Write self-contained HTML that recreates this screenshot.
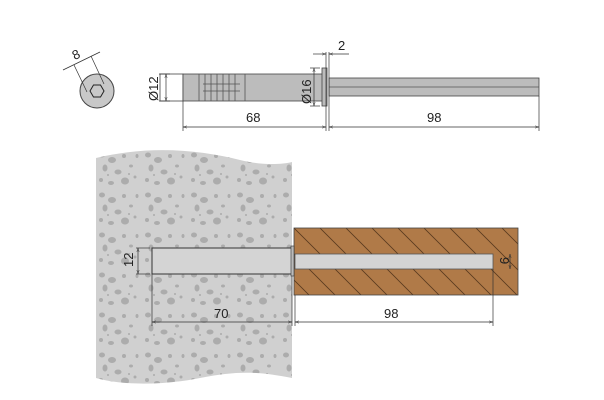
<!DOCTYPE html><html><head><style>body{margin:0;background:#fff}svg{display:block}text{font-family:"Liberation Sans",sans-serif;font-size:13px;fill:#222}</style></head><body>
<svg width="604" height="400" viewBox="0 0 604 400">
<defs>
<marker id="a" viewBox="0 0 10 10" refX="10" refY="5" markerWidth="6" markerHeight="6" orient="auto-start-reverse"><path d="M0,2L10,5L0,8" fill="none" stroke="#333"/></marker>
<pattern id="h" width="26" height="26" patternUnits="userSpaceOnUse" x="294" y="228"><rect width="26" height="26" fill="#b07a48"/><path d="M0,0L26,26M-13,13L13,39M13,-13L39,13" stroke="#5a3a1e" stroke-width="0.8"/></pattern>
<pattern id="c" width="46" height="40" patternUnits="userSpaceOnUse" x="96" y="150"><rect width="46" height="40" fill="#d0d0d0"/>
<g fill="#acacac"><ellipse cx="6" cy="5" rx="3" ry="2.5"/><ellipse cx="16" cy="10" rx="4" ry="3"/><ellipse cx="28" cy="6" rx="2" ry="2"/><ellipse cx="9" cy="18" rx="2.5" ry="3.5"/><ellipse cx="22" cy="22" rx="3.5" ry="2.5"/><ellipse cx="35" cy="16" rx="2" ry="1.5"/><ellipse cx="5" cy="30" rx="2" ry="2"/><ellipse cx="15" cy="33" rx="3" ry="2"/><ellipse cx="29" cy="31" rx="4" ry="3.5"/><ellipse cx="39" cy="27" rx="1.5" ry="1.5"/><ellipse cx="41" cy="6" rx="1.5" ry="2"/><ellipse cx="12" cy="25" rx="1" ry="1"/><ellipse cx="33" cy="24" rx="1" ry="1"/></g></pattern>
</defs>
<!-- hex head -->
<circle cx="97" cy="91" r="17" fill="#c8c8c8" stroke="#444"/>
<polygon points="90,91 93.5,85 100.5,85 104,91 100.5,97 93.5,97" fill="#c8c8c8" stroke="#222"/>
<line x1="63" y1="70" x2="100" y2="52" stroke="#333" stroke-width="0.8"/>
<line x1="74" y1="65" x2="87" y2="92" stroke="#333" stroke-width="0.7"/>
<line x1="91" y1="56" x2="104" y2="84" stroke="#333" stroke-width="0.7"/>
<text x="72" y="58" transform="rotate(-25 78 53)">8</text>
<!-- anchor -->
<rect x="160" y="74" width="23" height="27" fill="#fff" stroke="#444" stroke-width="0.8"/>
<rect x="183" y="74" width="140" height="27" fill="#bcbcbc" stroke="#444" stroke-width="0.8"/>
<g stroke="#555" stroke-width="0.8">
<line x1="199" y1="74" x2="199" y2="101"/><line x1="205" y1="74" x2="205" y2="101"/><line x1="211" y1="74" x2="211" y2="101"/><line x1="217" y1="74" x2="217" y2="101"/><line x1="223" y1="74" x2="223" y2="101"/><line x1="229" y1="74" x2="229" y2="101"/><line x1="235" y1="74" x2="235" y2="101"/><line x1="245" y1="74" x2="245" y2="101"/>
<line x1="203" y1="84" x2="240" y2="84"/><line x1="203" y1="91" x2="240" y2="91"/>
</g>
<rect x="322" y="68" width="5" height="38" fill="#bcbcbc" stroke="#444" stroke-width="0.8"/>
<rect x="329" y="78" width="210" height="18" fill="#bcbcbc" stroke="#444" stroke-width="0.8"/>
<line x1="329" y1="87" x2="539" y2="87" stroke="#555" stroke-width="0.7"/>
<g stroke="#333" stroke-width="0.7">
<line x1="183" y1="101" x2="183" y2="131"/><line x1="326" y1="52" x2="326" y2="131"/><line x1="329" y1="52" x2="329" y2="131"/><line x1="539" y1="96" x2="539" y2="131"/>
<line x1="183" y1="127" x2="326" y2="127" marker-start="url(#a)" marker-end="url(#a)"/>
<line x1="329" y1="127" x2="539" y2="127" marker-start="url(#a)" marker-end="url(#a)"/>
<line x1="313" y1="54" x2="326" y2="54" marker-end="url(#a)"/><line x1="349" y1="54" x2="329" y2="54" marker-end="url(#a)"/>
<line x1="159" y1="74" x2="170" y2="74"/><line x1="159" y1="101" x2="170" y2="101"/>
<line x1="166" y1="74" x2="166" y2="101" marker-start="url(#a)" marker-end="url(#a)"/>
<line x1="310" y1="68" x2="320" y2="68"/><line x1="310" y1="106" x2="320" y2="106"/>
<line x1="314" y1="68" x2="314" y2="106" marker-start="url(#a)" marker-end="url(#a)"/>
</g>
<text x="338" y="50">2</text>
<text x="246" y="122">68</text>
<text x="427" y="122">98</text>
<text transform="translate(158 101) rotate(-90)">Ø12</text>
<text transform="translate(311 104) rotate(-90)">Ø16</text>
<!-- concrete -->
<path d="M96,158 C150,145 200,150 240,160 C260,165 280,165 292,162 L292,378 C260,372 240,370 200,378 C160,386 120,385 96,378 Z" fill="url(#c)"/>
<!-- wood -->
<rect x="294" y="228" width="224" height="67" fill="url(#h)" stroke="#444" stroke-width="0.8"/>
<rect x="295" y="254" width="198" height="15" fill="#d4d4d4" stroke="#555" stroke-width="0.8"/>
<rect x="152" y="248" width="140" height="26" fill="#d4d4d4" stroke="#333"/>
<rect x="291" y="246" width="3" height="30" fill="#bbb" stroke="#333" stroke-width="0.6"/>
<g stroke="#333" stroke-width="0.7">
<line x1="152" y1="274" x2="152" y2="326"/><line x1="292" y1="276" x2="292" y2="326"/><line x1="295" y1="295" x2="295" y2="326"/><line x1="493" y1="269" x2="493" y2="326"/>
<line x1="152" y1="322" x2="292" y2="322" marker-start="url(#a)" marker-end="url(#a)"/>
<line x1="295" y1="322" x2="493" y2="322" marker-start="url(#a)" marker-end="url(#a)"/>
<line x1="136" y1="248" x2="150" y2="248"/><line x1="136" y1="274" x2="150" y2="274"/>
<line x1="138" y1="248" x2="138" y2="274" marker-start="url(#a)" marker-end="url(#a)"/>
<line x1="510" y1="254" x2="510" y2="269" marker-start="url(#a)" marker-end="url(#a)"/>
</g>
<text x="214" y="318">70</text>
<text x="384" y="318">98</text>
<text transform="translate(133 267) rotate(-90)">12</text>
<text transform="translate(500 257) rotate(90)">9</text>
</svg></body></html>
